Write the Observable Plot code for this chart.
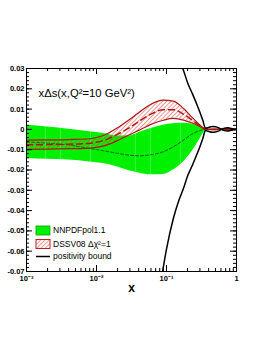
<!DOCTYPE html>
<html><head><meta charset="utf-8">
<script src="https://cdn.jsdelivr.net/npm/d3@7"></script>
<script src="https://cdn.jsdelivr.net/npm/@observablehq/plot@0.6"></script>
<style>html,body{margin:0;padding:0;background:#fff}svg{display:block}</style>
</head><body><div id="chart"></div>
<script>
// ---- data ----
const xGrid        = [0.001, 0.002, 0.004, 0.008, 0.0125, 0.02, 0.03, 0.04, 0.06, 0.09, 0.125, 0.175, 0.24, 0.3, 0.36, 0.42, 0.5, 0.6, 0.67, 0.74, 0.81, 0.88, 1];
const nnpdfUpper   = [0.0021, 0.0012, 0.0001, -0.0012, -0.002, -0.0033, -0.0031, -0.0016, 0.0005, 0.0021, 0.0028, 0.003, 0.0025, 0.0014, 0.0002, 0.0001, 0.0001, 0, 0.0003, 0.0004, 0.0003, 0.0001, 0];
const nnpdfLower   = [-0.0143, -0.0147, -0.0151, -0.016, -0.0168, -0.0185, -0.0205, -0.0215, -0.0224, -0.0222, -0.02, -0.016, -0.0102, -0.0048, -0.0008, -0.0001, -0.0001, 0, -0.0003, -0.0004, -0.0003, -0.0001, 0];
const nnpdfCentral = [-0.0062, -0.0068, -0.0077, -0.0094, -0.0105, -0.0118, -0.0127, -0.013, -0.0125, -0.011, -0.0086, -0.0053, -0.002, -0.0006, 0, 0, 0, 0, 0, 0, 0, 0, 0];
const dssvUpper    = [-0.0053, -0.0052, -0.005, -0.0046, -0.003, 0.0008, 0.005, 0.0082, 0.0124, 0.0144, 0.0139, 0.0103, 0.0054, 0.0022, 0.0002, 0.0001, 0.0001, 0, 0.0003, 0.0004, 0.0003, 0.0001, 0];
const dssvLower    = [-0.0098, -0.0097, -0.0095, -0.0092, -0.0082, -0.0055, -0.0025, -0.0005, 0.0025, 0.0045, 0.0054, 0.0046, 0.003, 0.0014, 0, -0.0001, -0.0001, 0, -0.0003, -0.0004, -0.0003, -0.0001, 0];
const dssvCentral  = [-0.0076, -0.0075, -0.0073, -0.0068, -0.0055, -0.0024, 0.001, 0.0038, 0.0075, 0.0097, 0.0097, 0.0075, 0.0042, 0.0018, 0, 0, 0, 0, 0, 0, 0, 0, 0];
const boundX       = [0.075, 0.088, 0.1, 0.125, 0.15, 0.175, 0.2, 0.235, 0.27, 0.3, 0.33, 0.36, 0.4, 0.45, 0.5, 0.57, 0.61, 0.67, 0.74, 0.81, 0.9, 1];
const boundVal     = [0.085, 0.07, 0.059, 0.044, 0.035, 0.029, 0.023, 0.0175, 0.0125, 0.0085, 0.0045, 0.0006, 0.001, 0.0014, 0.0013, 0.0006, 0.0001, 0.0006, 0.0008, 0.0006, 0.0002, 0];
// faint white seams visible inside the NNPDF band
const seamX        = [0.00187, 0.00306, 0.0082, 0.036, 0.059, 0.158];

const yMajor = [0.03, 0.02, 0.01, 0, -0.01, -0.02, -0.03, -0.04, -0.05, -0.06, -0.07];
const yTickLabels = ["0.03", "0.02", "0.01", "0", "-0.01", "-0.02", "-0.03", "-0.04", "-0.05", "-0.06", "-0.07"];
const xMajor = [0.001, 0.01, 0.1, 1];
const xTickLabels = ["10\u207B\u00B3", "10\u207B\u00B2", "10\u207B\u00B9", "1"];
const titleText = "x\u0394s(x,Q\u00B2=10 GeV\u00B2)";
const legendLabels = ["NNPDFpol1.1", "DSSV08 \u0394\u03C7\u00B2=1", "positivity bound"];

// ---- derived tables ----
const bands = xGrid.map((x, i) => ({x, nu: nnpdfUpper[i], nl: nnpdfLower[i], nc: nnpdfCentral[i], du: dssvUpper[i], dl: dssvLower[i], dc: dssvCentral[i]}));
const bound = boundX.map((x, i) => ({x, up: boundVal[i], lo: -boundVal[i]}));
const yMinor = d3.range(0, 51).map(i => -0.07 + i * 0.002);
const xMinor = [];
for (const d of [0.001, 0.01, 0.1]) for (let k = 2; k <= 9; k++) xMinor.push(d * k);

const W = 262, H = 339, mL = 26, mR = 26, mT = 68, mB = 68;
const yDom = [-0.07, 0.03], xDom = [0.001, 1];
const pxY = (yDom[1] - yDom[0]) / (H - mT - mB);          // data per px (y)
const pxX = Math.log10(xDom[1] / xDom[0]) / (W - mL - mR); // decades per px (x)
const fx = n => Math.pow(10, n * pxX);

const C = "monotone-x";
const plot = Plot.plot({
  width: W, height: H,
  marginLeft: mL, marginRight: mR, marginTop: mT, marginBottom: mB,
  x: {type: "log", domain: xDom},
  y: {domain: yDom},
  style: {fontFamily: "'Liberation Sans', Arial, sans-serif", fontSize: "8px", background: "white", color: "black"},
  marks: [
    Plot.areaY(bands, {x: "x", y1: "nl", y2: "nu", fill: "#00f000", curve: C, clip: true}),
    Plot.ruleX(seamX, {x: d => d, stroke: "white", strokeOpacity: 0.35, strokeWidth: 0.7}),
    Plot.lineY(bands, {x: "x", y: "nc", stroke: "#1d5a1d", strokeWidth: 1, strokeDasharray: "3,2", curve: C, clip: true}),
    Plot.areaY(bands, {x: "x", y1: "dl", y2: "du", fill: "url(#dssvHatch)", curve: C, clip: true}),
    Plot.lineY(bands, {x: "x", y: "du", stroke: "#b01818", strokeWidth: 1.2, curve: C, clip: true}),
    Plot.lineY(bands, {x: "x", y: "dl", stroke: "#b01818", strokeWidth: 1.2, curve: C, clip: true}),
    Plot.lineY(bands, {x: "x", y: "dc", stroke: "#b01818", strokeWidth: 1.5, strokeDasharray: "6,4", curve: C, clip: true}),
    Plot.lineY(bound, {x: "x", y: "up", stroke: "black", strokeWidth: 1.5, curve: C, clip: true}),
    Plot.lineY(bound, {x: "x", y: "lo", stroke: "black", strokeWidth: 1.5, curve: C, clip: true}),
    // inward ticks on all four sides
    Plot.ruleX(xMajor, {x: d => d, y1: yDom[0], y2: yDom[0] + 6 * pxY, stroke: "black"}),
    Plot.ruleX(xMinor, {x: d => d, y1: yDom[0], y2: yDom[0] + 3 * pxY, stroke: "black"}),
    Plot.ruleX(xMajor, {x: d => d, y1: yDom[1], y2: yDom[1] - 6 * pxY, stroke: "black"}),
    Plot.ruleX(xMinor, {x: d => d, y1: yDom[1], y2: yDom[1] - 3 * pxY, stroke: "black"}),
    Plot.ruleY(yMajor, {y: d => d, x1: xDom[0], x2: xDom[0] * fx(6), stroke: "black"}),
    Plot.ruleY(yMinor, {y: d => d, x1: xDom[0], x2: xDom[0] * fx(3), stroke: "black"}),
    Plot.ruleY(yMajor, {y: d => d, x1: xDom[1], x2: xDom[1] / fx(6), stroke: "black"}),
    Plot.ruleY(yMinor, {y: d => d, x1: xDom[1], x2: xDom[1] / fx(3), stroke: "black"}),
    Plot.frame({stroke: "black", strokeWidth: 1}),
    Plot.axisY({ticks: yMajor, tickSize: 0, tickPadding: 2, tickFormat: d => yTickLabels[yMajor.indexOf(d)], fontSize: 7.5, fontWeight: "bold"}),
    Plot.axisX({ticks: xMajor, tickSize: 0, tickPadding: 4, tickFormat: d => xTickLabels[xMajor.indexOf(d)], fontSize: 7.5, fontWeight: "bold", label: null}),
    Plot.text(["x"], {frameAnchor: "bottom", dy: 20, fontSize: 12, fontWeight: "bold"}),
    Plot.text([titleText], {frameAnchor: "top-left", dx: 12, dy: 20, textAnchor: "start", fontSize: 11.3})
  ]
});

// hatch pattern for the DSSV band
const svg = d3.select(plot);
const defs = svg.insert("defs", ":first-child");
defs.append("pattern").attr("id", "dssvHatch").attr("patternUnits", "userSpaceOnUse")
  .attr("width", 3).attr("height", 3).attr("patternTransform", "rotate(45)")
  .append("line").attr("x1", 0).attr("y1", 0).attr("x2", 0).attr("y2", 3)
  .attr("stroke", "#e0403f").attr("stroke-width", 1.1);

// legend inside the frame
const lg = svg.append("g").attr("font-family", "'Liberation Sans', Arial, sans-serif").attr("font-size", 8.5).attr("text-anchor", "start");
const lx = mL + 10, rows = [230.5, 244, 256.5];
lg.append("rect").attr("x", lx).attr("y", rows[0] - 4.5).attr("width", 14).attr("height", 9).attr("fill", "#00f000").attr("stroke", "#00a000").attr("stroke-width", 0.8);
lg.append("rect").attr("x", lx).attr("y", rows[1] - 4.5).attr("width", 14).attr("height", 9).attr("fill", "url(#dssvHatch)").attr("stroke", "#c02020").attr("stroke-width", 1);
lg.append("line").attr("x1", lx).attr("x2", lx + 14).attr("y1", rows[2]).attr("y2", rows[2]).attr("stroke", "black").attr("stroke-width", 1.5);
legendLabels.forEach((t, i) => lg.append("text").attr("x", lx + 17).attr("y", rows[i]).attr("dy", "0.35em").text(t));

document.getElementById("chart").appendChild(plot);
</script></body></html>
